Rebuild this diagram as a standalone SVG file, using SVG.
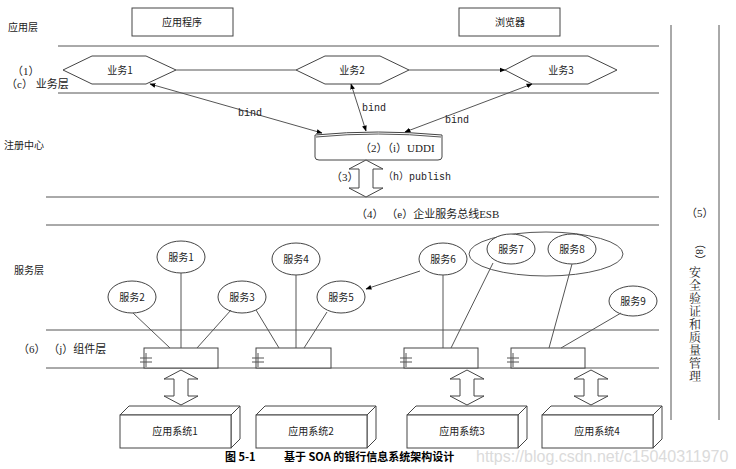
<svg xmlns="http://www.w3.org/2000/svg" width="736" height="469" viewBox="0 0 736 469">
<defs>
<marker id="ah" viewBox="0 0 10 10" refX="9" refY="5" markerWidth="6" markerHeight="6" orient="auto-start-reverse"><path d="M0,1 L10,5 L0,9 z" fill="#000"/></marker>
<style>
.t{font-family:"Noto Sans CJK SC","Liberation Sans",sans-serif;font-size:10px;fill:#222}
.s{font-family:"Liberation Serif","Noto Sans CJK SC",serif;font-size:11px;fill:#222}
.m{font-family:"Liberation Mono","Noto Sans CJK SC",monospace;font-size:10px;fill:#222}
.ln{stroke:#555;stroke-width:1;fill:none}
.sh{fill:#fff;stroke:#444;stroke-width:1}
.cap{font-family:"Noto Sans CJK SC",sans-serif;font-size:11px;font-weight:bold}
</style>
</defs>
<rect width="736" height="469" fill="#fff"/>
<g id="layers">
<path class="ln" d="M58,46H659M58,93H659M46,197H659M46,225H659M46,330H659M46,368H659M671,25V420M719,25V420"/>
<text class="t" x="8" y="31">应用层</text>
<text class="s" x="12" y="75">（1）</text>
<text class="s" x="6" y="88">（c） 业务层</text>
<text class="t" x="4" y="149">注册中心</text>
<text class="t" x="14" y="274">服务层</text>
<text class="s" x="18" y="353">（6） （j）组件层</text>
<text class="s" x="686" y="217">（5）</text>
<text class="s" x="696" y="238" transform="rotate(90 696 238)">（8）</text>
<text x="695" y="266" style="writing-mode:vertical-rl;letter-spacing:1px;font-family:'Noto Serif CJK SC','Noto Sans CJK SC',serif;font-size:12px;fill:#222">安全验证和质量管理</text>
</g>
<g id="app"><rect class="sh" x="132" y="8" width="101" height="28"/><text class="t" x="182" y="26" text-anchor="middle">应用程序</text></g>
<g id="browser"><rect class="sh" x="459" y="8" width="101" height="28"/><text class="t" x="510" y="26" text-anchor="middle">浏览器</text></g>
<g id="b1"><polygon class="sh" points="63,70 92,56 146,56 176,70 146,84 92,84"/><text class="t" x="120" y="74" text-anchor="middle">业务1</text></g>
<g id="b2"><polygon class="sh" points="296,70 325,56 380,56 409,70 380,84 325,84"/><text class="t" x="352" y="74" text-anchor="middle">业务2</text></g>
<g id="b3"><polygon class="sh" points="505,70 532,56 588,56 617,70 588,84 532,84"/><text class="t" x="561" y="74" text-anchor="middle">业务3</text></g>
<g id="uddi"><path class="sh" d="M315,135 Q378,129 442,135 V157 Q442,160 438,160 H319 Q315,160 315,157 Z"/><path class="ln" d="M316,137 Q378,131 441,137"/><text class="s" x="360" y="152">（2）（i）UDDI</text></g>
<g id="esb"><text class="s" x="356" y="218">（4）  （e）企业服务总线ESB</text></g>
<g id="services">
<g id="s1"><ellipse class="sh" cx="181" cy="257" rx="24" ry="16"/><text class="t" x="181" y="261" text-anchor="middle">服务1</text></g>
<g id="s2"><ellipse class="sh" cx="132" cy="297" rx="24" ry="16"/><text class="t" x="132" y="301" text-anchor="middle">服务2</text></g>
<g id="s3"><ellipse class="sh" cx="242" cy="297" rx="24" ry="16"/><text class="t" x="242" y="301" text-anchor="middle">服务3</text></g>
<g id="s4"><ellipse class="sh" cx="296" cy="259" rx="24" ry="16"/><text class="t" x="296" y="263" text-anchor="middle">服务4</text></g>
<g id="s5"><ellipse class="sh" cx="341" cy="297" rx="24" ry="16"/><text class="t" x="341" y="301" text-anchor="middle">服务5</text></g>
<g id="s6"><ellipse class="sh" cx="443" cy="259" rx="24" ry="16"/><text class="t" x="443" y="263" text-anchor="middle">服务6</text></g>
<g id="grp"><ellipse class="ln" cx="546" cy="254" rx="77" ry="22"/></g>
<g id="s7"><ellipse class="sh" cx="511" cy="249" rx="24" ry="15"/><text class="t" x="511" y="253" text-anchor="middle">服务7</text></g>
<g id="s8"><ellipse class="sh" cx="572" cy="249" rx="24" ry="15"/><text class="t" x="572" y="253" text-anchor="middle">服务8</text></g>
<g id="s9"><ellipse class="sh" cx="633" cy="301" rx="24" ry="15"/><text class="t" x="633" y="305" text-anchor="middle">服务9</text></g>
</g>
<g id="components">
<rect class="sh" x="144" y="348" width="74" height="20"/><rect class="sh" x="256" y="348" width="75" height="20"/><rect class="sh" x="404" y="348" width="74" height="20"/><rect class="sh" x="511" y="348" width="74" height="20"/>
<path class="ln" d="M140,358H152M140,362H152M146,353V367M252,358H264M252,362H264M258,353V367M400,358H412M400,362H412M406,353V367M507,358H519M507,362H519M513,353V367"/>
</g>
<g id="systems">
<g id="a1"><path class="sh" d="M120,415 L129,406 H240 L231,415 Z M231,415 L240,406 V439 L231,448 Z"/><rect class="sh" x="120" y="415" width="111" height="33"/><text class="t" x="175" y="435" text-anchor="middle">应用系统1</text></g>
<g id="a2"><path class="sh" d="M256,415 L265,406 H376 L367,415 Z M367,415 L376,406 V439 L367,448 Z"/><rect class="sh" x="256" y="415" width="111" height="33"/><text class="t" x="311" y="435" text-anchor="middle">应用系统2</text></g>
<g id="a3"><path class="sh" d="M407,415 L416,406 H527 L518,415 Z M518,415 L527,406 V439 L518,448 Z"/><rect class="sh" x="407" y="415" width="111" height="33"/><text class="t" x="462" y="435" text-anchor="middle">应用系统3</text></g>
<g id="a4"><path class="sh" d="M542,415 L551,406 H662 L653,415 Z M653,415 L662,406 V439 L653,448 Z"/><rect class="sh" x="542" y="415" width="111" height="33"/><text class="t" x="597" y="435" text-anchor="middle">应用系统4</text></g>
</g>
<g id="connectors">
<path class="ln" d="M176,70H296M409,70H505" marker-end="url(#ah)"/>
<path class="ln" d="M150,84L322,133" marker-start="url(#ah)" marker-end="url(#ah)"/>
<path class="ln" d="M351,84L366,131" marker-start="url(#ah)" marker-end="url(#ah)"/>
<path class="ln" d="M532,84L405,132" marker-start="url(#ah)" marker-end="url(#ah)"/>
<path class="ln" d="M420,271L366,289" marker-end="url(#ah)"/>
<text class="m" x="238" y="116">bind</text><text class="m" x="362" y="111">bind</text><text class="m" x="445" y="123">bind</text>
<path class="ln" d="M133,313L170,348M181,273V348M231,310L197,348M256,310L279,348M296,275V348M327,312L304,348M443,275V348M493,263L451,348M572,264L549,348M621,313L561,348"/>
<path class="sh" d="M366,160 L383,169 H373 V188 H383 L366,197 L349,188 H359 V169 H349 Z"/>
<text class="s" x="331" y="181">（3）</text><text class="m" x="383" y="180">（h）publish</text>
<path class="sh" d="M181,370 L198,379 H188 V396 H198 L181,405 L164,396 H174 V379 H164 Z"/>
<path class="sh" d="M467,370 L484,379 H474 V396 H484 L467,405 L450,396 H460 V379 H450 Z"/>
<path class="sh" d="M591,370 L608,379 H598 V396 H608 L591,405 L574,396 H584 V379 H574 Z"/>
</g>
<text class="cap" x="225" y="461">图 5-1</text>
<text class="cap" x="284" y="461">基于 SOA 的银行信息系统架构设计</text>
<text x="476" y="462" style="font-family:'Liberation Sans',sans-serif;font-size:16px;fill:#ccc;opacity:0.7">https://blog.csdn.net/c15040311970</text>
</svg>
